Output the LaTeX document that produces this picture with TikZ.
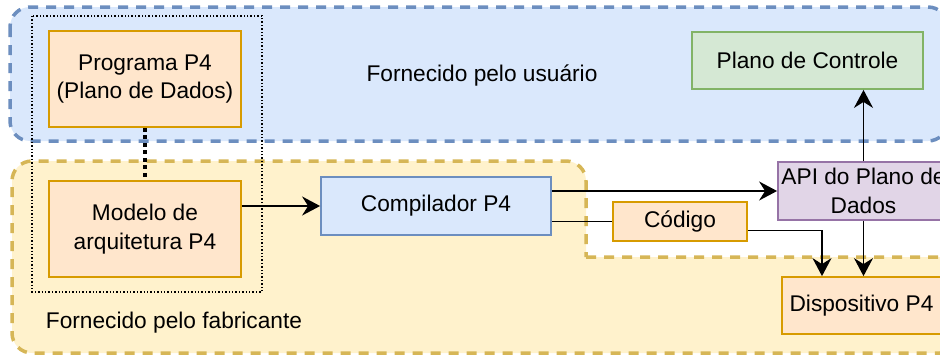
\documentclass[tikz,border=0pt]{standalone}
\usepackage{fontspec}
\setmainfont{Liberation Sans}
\usetikzlibrary{arrows.meta}

\definecolor{bluefill}{HTML}{DAE8FC}
\definecolor{bluestroke}{HTML}{6C8EBF}
\definecolor{yellowfill}{HTML}{FFF2CC}
\definecolor{yellowstroke}{HTML}{D6B656}
\definecolor{orangefill}{HTML}{FFE6CC}
\definecolor{orangestroke}{HTML}{D79B00}
\definecolor{greenfill}{HTML}{D5E8D4}
\definecolor{greenstroke}{HTML}{82B366}
\definecolor{purplefill}{HTML}{E1D5E7}
\definecolor{purplestroke}{HTML}{9673A6}

\tikzset{
  region/.style={line width=3.5pt, dash pattern=on 10pt off 8pt},
  box/.style={draw, line width=1.8pt, align=center, inner sep=0pt},
  orangebox/.style={box, draw=orangestroke, fill=orangefill},
  bluebox/.style={box, draw=bluestroke, fill=bluefill},
  greenbox/.style={box, draw=greenstroke, fill=greenfill},
  purplebox/.style={box, draw=purplestroke, fill=purplefill},
  flow/.style={line width=1.8pt, -{Stealth[length=18pt, width=19pt, inset=6pt]}},
  plainflow/.style={line width=1.8pt},
  caption/.style={inner sep=0pt, anchor=center},
}

\begin{document}
\begin{tikzpicture}[x=1pt, y=-1pt, font=\fontsize{22.7}{28.5}\selectfont]
\useasboundingbox (0,0) rectangle (940,356);
\clip (0,0) rectangle (940,356);

% user-provided area
\draw[region, draw=bluestroke, fill=bluefill, rounded corners=20pt]
  (10,7) rectangle (948,141);

% manufacturer-provided area (with a notch at the upper right)
\filldraw[region, draw=yellowstroke, fill=yellowfill, rounded corners=20pt]
  (586,257) -- (960,257) -- (960,353) -- (12,353) -- (12,161) -- (586,161) -- (586,257);

% grouping of the P4 program and its architecture model
\draw[line width=1.4pt, dash pattern=on 1.4pt off 2pt] (32,16) rectangle (262,292);

% boxes
\node[orangebox, minimum width=192pt, minimum height=96pt] (prog) at (145,79)
  {Programa P4\\(Plano de Dados)};
\node[orangebox, minimum width=192pt, minimum height=96pt] (modelo) at (145,229)
  {Modelo de\\arquitetura P4};
\node[bluebox, minimum width=230pt, minimum height=58pt] (comp) at (436,206)
  {Compilador P4};
\node[orangebox, minimum width=134pt, minimum height=39pt] (codigo) at (680,221.5)
  {Código};
\node[purplebox, minimum width=171pt, minimum height=58pt] (api) at (863.5,191)
  {API do Plano de\\Dados};
\node[greenbox, minimum width=231pt, minimum height=57pt] (ctrl) at (807.5,60.5)
  {Plano de Controle};
\node[orangebox, minimum width=159pt, minimum height=57pt] (disp) at (861.5,305.5)
  {Dispositivo P4};

% area captions
\node[caption] (usuario) at (482,75) {Fornecido pelo usuário};
\node[caption] (fabricante) at (174,323) {Fornecido pelo fabricante};

% connectors
\draw[line width=4pt, dash pattern=on 4pt off 3.5pt] (prog.south) -- (modelo.north);
\draw[flow] (modelo.east |- comp.west) -- (comp.west);
\draw[flow] (comp.east |- api.west) -- (api.west);
\draw[plainflow] (comp.east |- codigo.west) -- (codigo.west);
\draw[flow] ([yshift=-9pt]codigo.east) -| ([xshift=-39.5pt]disp.north);
\draw[flow] (api.north) -- (api.north |- ctrl.south);
\draw[flow] (api.south) -- (api.south |- disp.north);
\end{tikzpicture}
\end{document}
